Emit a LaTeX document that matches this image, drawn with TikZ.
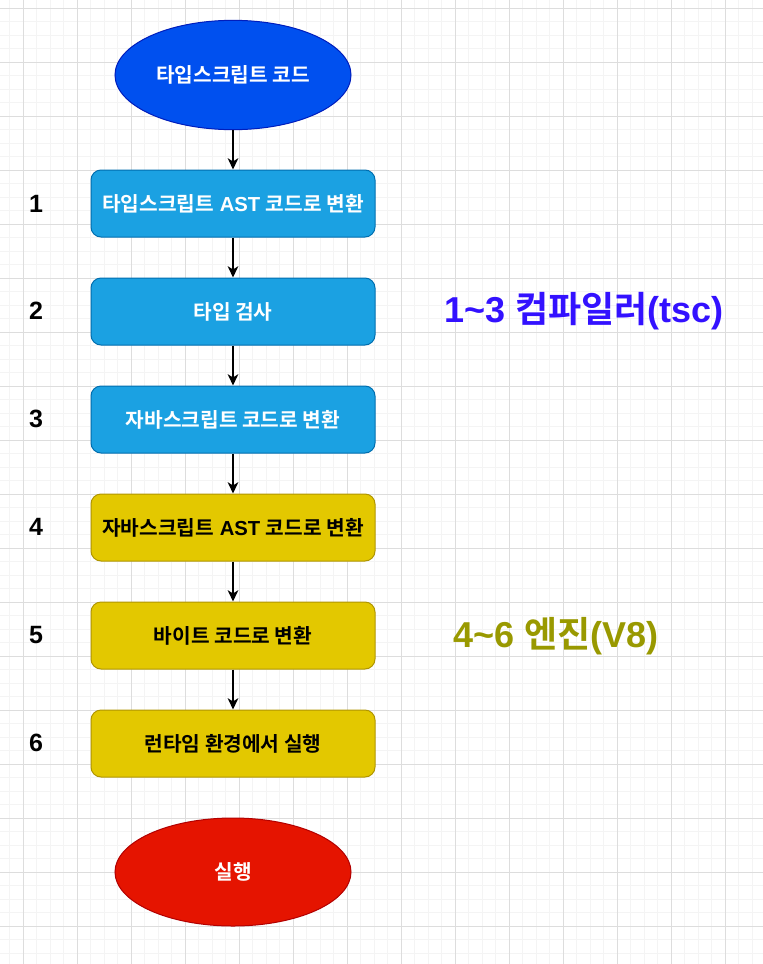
\documentclass[tikz,border=0pt]{standalone}
\usepackage{fontspec}
\setmainfont{Liberation Sans}
\newfontfamily\kr{Noto Sans CJK KR}[BoldFont={Noto Sans CJK KR Bold}]
\usetikzlibrary{shapes.geometric,arrows.meta}
\definecolor{ellblue}{HTML}{0050EF}
\definecolor{ellbluedk}{HTML}{001DBC}
\definecolor{boxblue}{HTML}{1BA1E2}
\definecolor{boxbluedk}{HTML}{006EAF}
\definecolor{boxyel}{HTML}{E3C800}
\definecolor{boxyeldk}{HTML}{B09500}
\definecolor{ellred}{HTML}{E51400}
\definecolor{ellreddk}{HTML}{B20000}
\definecolor{lblblue}{HTML}{3311FF}
\definecolor{lblolive}{HTML}{999900}
\definecolor{gridminor}{HTML}{F4F4F4}
\definecolor{gridmajor}{HTML}{DDDDDD}
\tikzset{
  boxfont/.style={font=\fontsize{15.2pt}{18pt}\selectfont\bfseries},
  stepbox/.style={rectangle, rounded corners=7.5pt, minimum width=213pt, minimum height=50.25pt, inner sep=0pt, line width=0.75pt, boxfont},
  bluebox/.style={stepbox, fill=boxblue, draw=boxbluedk, text=white},
  yelbox/.style={stepbox, fill=boxyel, draw=boxyeldk, text=black},
  termell/.style={ellipse, minimum width=177pt, minimum height=82pt, inner sep=0pt, line width=0.75pt, boxfont, text=white},
  numlbl/.style={font=\fontsize{18.75pt}{22pt}\selectfont\bfseries, text=black, inner sep=0pt},
  biglbl/.style={font=\fontsize{27pt}{32pt}\selectfont\bfseries, inner sep=0pt},
  arr/.style={line width=1pt, -{Stealth[length=8.5pt,width=8pt,inset=2.5pt]}},
  minorline/.style={draw=gridminor, line width=0.75pt},
  majorline/.style={draw=gridmajor, line width=0.75pt}
}
\begin{document}
\begin{tikzpicture}[x=0.75pt,y=-0.75pt]
\useasboundingbox (0,0) rectangle (763,964);
\fill[white] (0,0) rectangle (763,964);
% grid
\foreach \i in {0,...,56} {
  \pgfmathsetmacro{\gx}{9.5+13.5*\i}
  \draw[minorline] (\gx,0) -- (\gx,964);
}
\foreach \i in {0,...,71} {
  \pgfmathsetmacro{\gy}{-5.2+13.5*\i}
  \draw[minorline] (0,\gy) -- (763,\gy);
}
\foreach \i in {0,...,13} {
  \pgfmathsetmacro{\gx}{23+54*\i}
  \draw[majorline] (\gx,0) -- (\gx,964);
}
\foreach \i in {0,...,17} {
  \pgfmathsetmacro{\gy}{8.3+54*\i}
  \draw[majorline] (0,\gy) -- (763,\gy);
}
% nodes
\node[termell, fill=ellblue, draw=ellbluedk] (start) at (233,75) {\kr 타입스크립트 코드};
\node[bluebox] (b1) at (233,203.5) {{\kr 타입스크립트} AST {\kr 코드로 변환}};
\node[bluebox] (b2) at (233,311.5) {\kr 타입 검사};
\node[bluebox] (b3) at (233,419.5) {\kr 자바스크립트 코드로 변환};
\node[yelbox] (b4) at (233,527.5) {{\kr 자바스크립트} AST {\kr 코드로 변환}};
\node[yelbox] (b5) at (233,635.5) {\kr 바이트 코드로 변환};
\node[yelbox] (b6) at (233,743.5) {\kr 런타임 환경에서 실행};
\node[termell, minimum height=81pt, fill=ellred, draw=ellreddk] (end) at (233,872) {\kr 실행};
% step numbers
\node[numlbl] (n1) at (36,204) {1};
\node[numlbl] (n2) at (36,311) {2};
\node[numlbl] (n3) at (36,419) {3};
\node[numlbl] (n4) at (36,527) {4};
\node[numlbl] (n5) at (36,635) {5};
\node[numlbl] (n6) at (36,743) {6};
% group labels
\node[biglbl, text=lblblue] (g1) at (584,311) {1\textasciitilde 3 {\kr 컴파일러}(tsc)};
\node[biglbl, text=lblolive] (g2) at (556,636) {4\textasciitilde 6 {\kr 엔진}(V8)};
% connectors
\draw[arr] (start) -- (b1);
\draw[arr] (b1) -- (b2);
\draw[arr] (b2) -- (b3);
\draw[arr] (b3) -- (b4);
\draw[arr] (b4) -- (b5);
\draw[arr] (b5) -- (b6);
\end{tikzpicture}
\end{document}
